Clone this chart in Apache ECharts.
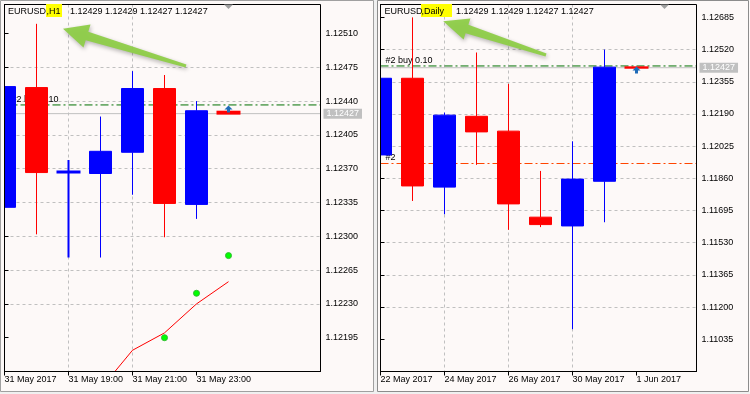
<!DOCTYPE html>
<html><head><meta charset="utf-8">
<script src="https://cdn.jsdelivr.net/npm/echarts@6/dist/echarts.min.js"></script>
<style>html,body{margin:0;padding:0;background:#f0f0f0;}#c{width:750px;height:394px;}</style>
</head><body><div id="c"></div>
<script>
// ---------- data ----------
const h1Categories = ['31 May 17:00','31 May 18:00','31 May 19:00','31 May 20:00','31 May 21:00','31 May 22:00','31 May 23:00','1 Jun 00:00'];
const h1AxisLabels = ['31 May 2017','','31 May 19:00','','31 May 21:00','','31 May 23:00',''];
const h1Open  = [1.12330, 1.12454, 1.12366, 1.12365, 1.12387, 1.12453, 1.12333, 1.12429];
const h1Close = [1.12455, 1.12366, 1.12367, 1.12388, 1.12453, 1.12334, 1.12430, 1.12427];
const h1Low   = [1.12320, 1.12302, 1.12278, 1.12278, 1.12343, 1.12299, 1.12318, 1.12427];
const h1High  = [1.12460, 1.12520, 1.12379, 1.12424, 1.12471, 1.12467, 1.12440, 1.12429];
const h1MA    = [null, null, null, 1.12142, 1.12182, 1.12200, 1.12230, 1.12253];
const h1Dots  = [null, null, null, null, null, 1.12195, 1.12241, 1.12280];
const h1YTicks = ['1.12195','1.12230','1.12265','1.12300','1.12335','1.12370','1.12405','1.12440','1.12475','1.12510'];

const dayCategories = ['22 May','23 May','24 May','25 May','26 May','29 May','30 May','31 May','1 Jun'];
const dayAxisLabels = ['22 May 2017','','24 May 2017','','26 May 2017','','30 May 2017','','1 Jun 2017'];
const dayOpen  = [1.11980, 1.12373, 1.11815, 1.12178, 1.12102, 1.11661, 1.11616, 1.11845, 1.12429];
const dayClose = [1.12373, 1.11821, 1.12184, 1.12098, 1.11729, 1.11623, 1.11856, 1.12430, 1.12427];
const dayLow   = [1.11950, 1.11744, 1.11676, 1.11929, 1.11596, 1.11610, 1.11087, 1.11635, 1.12427];
const dayHigh  = [1.12400, 1.12685, 1.12197, 1.12505, 1.12344, 1.11898, 1.12050, 1.12520, 1.12429];
const dayYTicks = ['1.11035','1.11200','1.11365','1.11530','1.11695','1.11860','1.12025','1.12190','1.12355','1.12520','1.12685'];

const bidPrice = 1.12427;
const buyPrice = 1.12436;
const stopPrice = 1.11936;
const buyText = '#2 buy 0.10';
const stopText = '#2';
const quoteText = '1.12429 1.12429 1.12427 1.12427';
const h1Scale  = {min: 1.12160, max: 1.12540, step: 0.00035};
const dayScale = {min: 1.10870, max: 1.12751, step: 0.00165};

// ---------- styling ----------
const FONT = "'Liberation Sans', Arial, sans-serif";
const BG = '#fdf9f8';
const XMAX = 9.875;

function candles(o, c, l, h) {
  return o.map((v, i) => {
    const item = {value: [i, v, c[i], l[i], h[i]]};
    if (Math.abs(v - c[i]) < 0.00003) item.itemStyle = {borderWidth: 2};
    return item;
  });
}
function points(vals) {
  const out = [];
  vals.forEach((v, i) => { if (v != null) out.push([i, v]); });
  return out;
}
function xAxisFor(gridIndex, labels) {
  const idx = [];
  labels.forEach((t, i) => { if (t) idx.push(i); });
  return {
    type: 'value', gridIndex, position: 'bottom', min: 0, max: XMAX, interval: 1,
    axisLine: {show: true, lineStyle: {color: '#000', width: 1}},
    axisTick: {show: true, length: 4, customValues: idx, lineStyle: {color: '#000'}},
    axisLabel: {show: true, customValues: idx, formatter: v => labels[Math.round(v)] || '',
      align: 'left', margin: 4, fontSize: 9, fontFamily: FONT, color: '#000'},
    splitLine: {show: true, showMinLine: false, showMaxLine: false,
      lineStyle: {color: '#c0c0c0', type: [3, 3], width: 1}}
  };
}
function yAxisFor(gridIndex, sc, ticks) {
  const tv = ticks.map(Number);
  return {
    type: 'value', gridIndex, position: 'right', min: sc.min, max: sc.max, interval: sc.step,
    axisLine: {show: true, lineStyle: {color: '#000', width: 1}},
    axisTick: {show: true, length: 4, customValues: tv, lineStyle: {color: '#000'}},
    axisLabel: {show: true, customValues: tv, formatter: v => v.toFixed(5),
      margin: 5, fontSize: 9, fontFamily: FONT, color: '#000'},
    splitLine: {show: true, showMinLine: false, showMaxLine: false,
      lineStyle: {color: '#c0c0c0', type: [3, 3], width: 1}}
  };
}
const candleStyle = () => ({color: '#0000ff', color0: '#ff0000', borderColor: '#0000ff', borderColor0: '#ff0000', borderWidth: 1});

// horizontal price level drawn as a two-point line across the axis range
function level(ax, price, color, dash, text, dx, priceBox) {
  const s = {
    type: 'line', xAxisIndex: ax, yAxisIndex: ax, z: 1, silent: true,
    symbol: 'circle', symbolSize: 0, showSymbol: true,
    itemStyle: {color}, lineStyle: {color, type: dash, width: 1},
    emphasis: {disabled: true},
    data: [
      {value: [0, price], label: text ? {show: true, formatter: text, position: [dx, -10],
        color: '#000', fontSize: 9, fontFamily: FONT} : {show: false}},
      {value: [XMAX, price], label: {show: false}}
    ]
  };
  if (priceBox) {
    s.endLabel = {show: true, formatter: price.toFixed(5), distance: 3, color: '#ffffff',
      backgroundColor: '#c0c0c0', padding: [1, 3, 0, 3], lineHeight: 9, fontSize: 9, fontFamily: FONT};
  }
  return s;
}
const DASHDOT = [8, 3, 2, 3];
const arrowSymbol = 'path://M4,0 L8,4 L5.5,4 L5.5,7 L2.5,7 L2.5,4 L0,4 Z';

function poly(pts) {
  return {type: 'polygon', z: 110, silent: true, shape: {points: pts},
    style: {fill: 'rgba(142,206,72,0.95)', shadowBlur: 4, shadowColor: 'rgba(0,0,0,0.3)', shadowOffsetX: 1, shadowOffsetY: 2}};
}
function txt(x, y, t) {
  return {type: 'text', z: 111, silent: true, x, y,
    style: {text: t, fontSize: 9, fontFamily: FONT, fill: '#000', verticalAlign: 'middle', align: 'left'}};
}
function rect(x, y, w, h, fill, z) {
  return {type: 'rect', z, silent: true, shape: {x, y, width: w, height: h}, style: {fill}};
}

const option = {
  animation: false,
  grid: [
    {left: 4.5, top: 4.5, width: 316, height: 367, show: true, borderColor: '#000', borderWidth: 1, backgroundColor: 'transparent', z: 3},
    {left: 380.5, top: 4.5, width: 316, height: 367, show: true, borderColor: '#000', borderWidth: 1, backgroundColor: 'transparent', z: 3}
  ],
  xAxis: [xAxisFor(0, h1AxisLabels), xAxisFor(1, dayAxisLabels)],
  yAxis: [yAxisFor(0, h1Scale, h1YTicks), yAxisFor(1, dayScale, dayYTicks)],
  series: [
    level(0, bidPrice, '#c0c0c0', 'solid', null, 0, true),
    level(0, buyPrice, '#007000', DASHDOT, buyText, 7, false),
    {type: 'candlestick', name: 'EURUSD,H1', xAxisIndex: 0, yAxisIndex: 0, z: 2,
      barWidth: 22, itemStyle: candleStyle(), data: candles(h1Open, h1Close, h1Low, h1High)},
    {type: 'line', name: 'MA', xAxisIndex: 0, yAxisIndex: 0, z: 1, showSymbol: false, symbol: 'none',
      lineStyle: {color: '#ff0000', width: 1}, data: points(h1MA)},
    {type: 'scatter', name: 'dots', xAxisIndex: 0, yAxisIndex: 0, z: 3, symbolSize: 6,
      itemStyle: {color: '#00ff00', borderColor: '#33bb33', borderWidth: 1, opacity: 1}, data: points(h1Dots)},
    {type: 'scatter', name: 'buyH1', xAxisIndex: 0, yAxisIndex: 0, z: 4, symbol: arrowSymbol, symbolSize: [8, 7],
      symbolOffset: [0, 4], itemStyle: {color: '#1e6bb8', opacity: 1}, data: [[h1Categories.length - 1, buyPrice]]},

    level(1, bidPrice, '#c0c0c0', 'solid', null, 0, true),
    level(1, buyPrice, '#007000', DASHDOT, buyText, 5, false),
    level(1, stopPrice, '#ff4500', DASHDOT, stopText, 5, false),
    {type: 'candlestick', name: 'EURUSD,Daily', xAxisIndex: 1, yAxisIndex: 1, z: 2,
      barWidth: 22, itemStyle: candleStyle(), data: candles(dayOpen, dayClose, dayLow, dayHigh)},
    {type: 'scatter', name: 'buyD1', xAxisIndex: 1, yAxisIndex: 1, z: 4, symbol: arrowSymbol, symbolSize: [8, 7],
      symbolOffset: [0, 4], itemStyle: {color: '#1e6bb8', opacity: 1}, data: [[dayCategories.length - 1, buyPrice]]}
  ],
  graphic: {elements: [
    rect(0, 0, 374, 392, BG, -10),
    rect(377, 0, 373, 392, BG, -10),
    rect(1, 1, 3, 390, BG, 100),
    rect(362, 1, 11, 390, BG, 100),
    rect(373, 0, 4, 394, '#f0f0f0', 100),
    rect(377, 1, 3, 390, BG, 100),
    {type: 'rect', z: 110, silent: true, shape: {x: 0.5, y: 0.5, width: 373, height: 391}, style: {fill: 'none', stroke: '#a0a0a0', lineWidth: 1}},
    {type: 'rect', z: 110, silent: true, shape: {x: 377.5, y: 0.5, width: 371, height: 391}, style: {fill: 'none', stroke: '#8c8c8c', lineWidth: 1}},
    {type: 'polygon', z: 110, silent: true, shape: {points: [[224, 4.5], [233, 4.5], [228.5, 9]]}, style: {fill: '#a0a0a0'}},
    {type: 'polygon', z: 110, silent: true, shape: {points: [[660, 4.5], [669, 4.5], [664.5, 9]]}, style: {fill: '#a0a0a0'}},
    rect(46, 4, 16, 13, '#ffff00', 110),
    rect(421, 4, 31, 13, '#ffff00', 110),
    txt(8, 11.5, 'EURUSD'),
    txt(46.5, 11.5, ',H1'),
    txt(70, 11.5, quoteText),
    txt(384.5, 11.5, 'EURUSD'),
    txt(421.5, 11.5, ',Daily'),
    txt(456, 11.5, quoteText),
    poly([[63, 28.7], [90.5, 24.5], [88.3, 31.7], [186.4, 64.6], [185.6, 67.4], [85.7, 40.3], [83.5, 47.5]]),
    poly([[443.2, 21.2], [470.4, 18.5], [468.4, 24.7], [546.5, 53.6], [545.5, 56.4], [465.6, 33.3], [463.6, 39.5]])
  ]}
};
const chart = echarts.init(document.getElementById('c'), null, {renderer: 'canvas'});
chart.setOption(option);
</script>
</body></html>
